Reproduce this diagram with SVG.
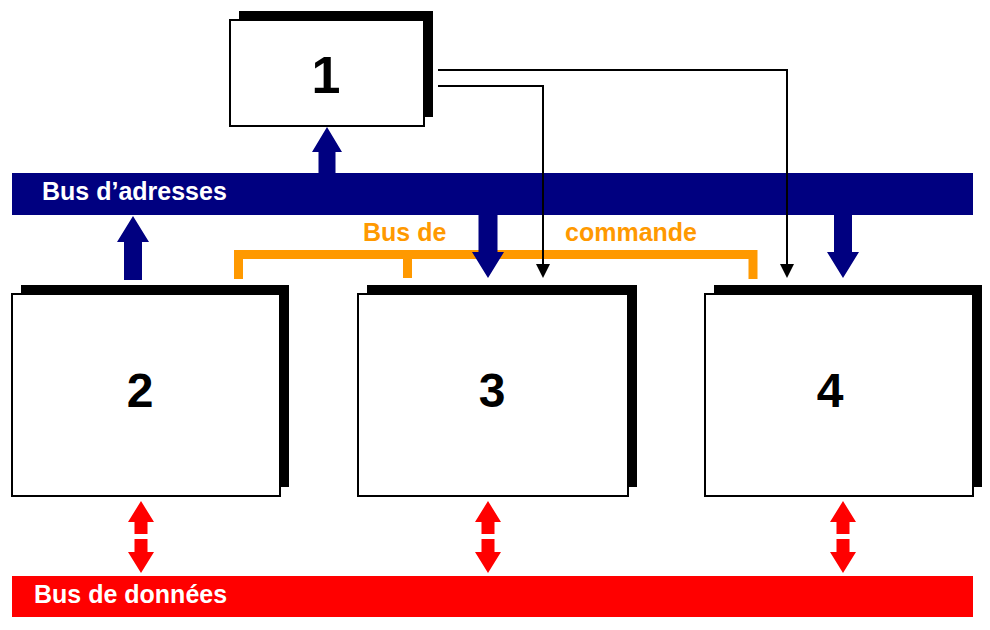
<svg xmlns="http://www.w3.org/2000/svg" width="990" height="630" viewBox="0 0 990 630">
<style>
.shadow{fill:#000}
.box{fill:#fff;stroke:#000;stroke-width:2}
.num{font-family:"Liberation Sans",Arial,sans-serif;font-weight:bold;fill:#000;text-anchor:middle}
.buslabel{font-family:"Liberation Sans",Arial,sans-serif;font-weight:bold;fill:#fff;font-size:25px}
.cmd{font-family:"Liberation Sans",Arial,sans-serif;font-weight:bold;fill:#FF9900;font-size:25px}
.navy{fill:#000080}
.red{fill:#FF0000}
.wire{fill:none;stroke:#000;stroke-width:2}
.head{fill:#000}
</style>
<rect width="990" height="630" fill="#fff"/>

<g id="address-bus">
<rect class="navy" x="12" y="173" width="961" height="42"/>
<text class="buslabel" x="42" y="200">Bus d’adresses</text>
</g>

<g id="data-bus">
<rect class="red" x="12" y="576" width="961" height="41"/>
<text class="buslabel" x="34" y="603">Bus de données</text>
</g>

<g id="command-bus">
<path d="M238.5,279 V254.5 H753 V279 M407.5,254.5 V278" fill="none" stroke="#FF9900" stroke-width="9"/>
<text class="cmd" x="363" y="241">Bus de</text>
<text class="cmd" x="565" y="241">commande</text>
</g>

<g id="node1">
<rect class="shadow" x="239" y="11" width="194" height="106"/>
<rect class="box" x="230" y="20" width="194" height="106"/>
<text class="num" x="326" y="93" font-size="52">1</text>
</g>

<g id="node2">
<rect class="shadow" x="21" y="285" width="268" height="202"/>
<rect class="box" x="12" y="294" width="268" height="202"/>
<text class="num" x="140" y="407" font-size="48">2</text>
</g>

<g id="node3">
<rect class="shadow" x="367" y="285" width="270" height="202"/>
<rect class="box" x="358" y="294" width="270" height="202"/>
<text class="num" x="492" y="407" font-size="48">3</text>
</g>

<g id="node4">
<rect class="shadow" x="714" y="285" width="268" height="202"/>
<rect class="box" x="705" y="294" width="268" height="202"/>
<text class="num" x="830" y="407" font-size="48">4</text>
</g>

<g id="connectors">
<polygon class="navy" points="327,127 342,152 335.5,152 335.5,173 318.5,173 318.5,152 312,152"/>
<polygon class="navy" points="133,216 149,242 142,242 142,280 124,280 124,242 117,242"/>
<polygon class="navy" points="478.5,215 497.5,215 497.5,252 504,252 488,278 472,252 478.5,252"/>
<polygon class="navy" points="834,215 852,215 852,252 859,252 843,278 827,252 834,252"/>

<path class="wire" d="M438,70 H787 V264"/>
<polygon class="head" points="780,264 794,264 787,278"/>
<path class="wire" d="M438,86 H543 V264"/>
<polygon class="head" points="536,264 550,264 543,278"/>

<polygon class="red" points="141,501 154,522 147.5,522 147.5,534 134.5,534 134.5,522 128,522"/>
<polygon class="red" points="134.5,539 147.5,539 147.5,552 154,552 141,573 128,552 134.5,552"/>
<polygon class="red" points="488,501 501,522 494.5,522 494.5,534 481.5,534 481.5,522 475,522"/>
<polygon class="red" points="481.5,539 494.5,539 494.5,552 501,552 488,573 475,552 481.5,552"/>
<polygon class="red" points="843,501 856,522 849.5,522 849.5,534 836.5,534 836.5,522 830,522"/>
<polygon class="red" points="836.5,539 849.5,539 849.5,552 856,552 843,573 830,552 836.5,552"/>
</g>
</svg>
